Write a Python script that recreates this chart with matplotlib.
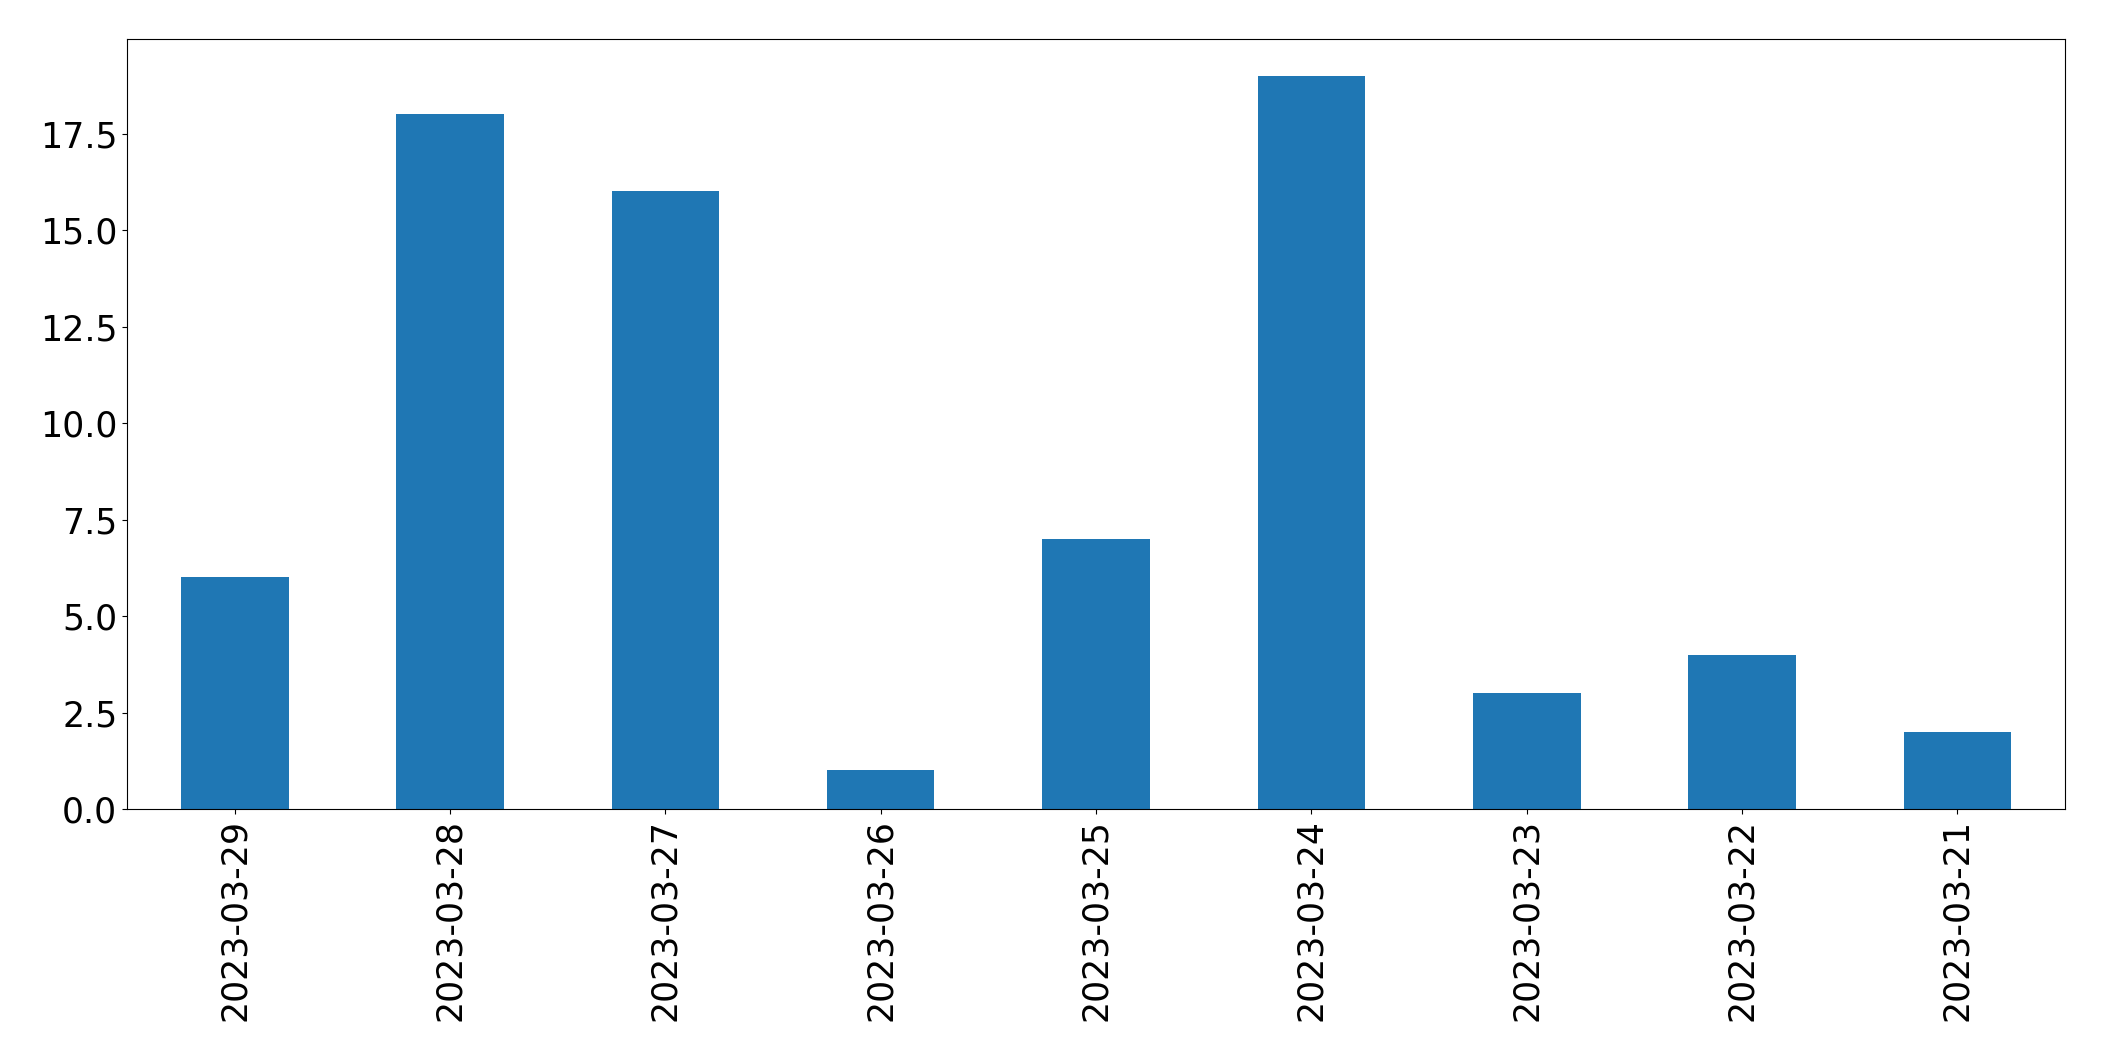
import matplotlib
matplotlib.use("Agg")
import matplotlib.pyplot as plt
import numpy as np

dates = ["2023-03-29", "2023-03-28", "2023-03-27", "2023-03-26", "2023-03-25",
         "2023-03-24", "2023-03-23", "2023-03-22", "2023-03-21"]
counts = [6, 18, 16, 1, 7, 19, 3, 4, 2]

fig = plt.figure(figsize=(21.04, 10.61), dpi=100)
ax = fig.add_axes([127 / 2104, 1 - 809 / 1061, (2065 - 127) / 2104, (809 - 39) / 1061])

x = np.arange(len(dates))
ax.bar(x, counts, width=0.5, color="#1f77b4")
ax.set_xlim(-0.5, len(dates) - 0.5)
ax.set_xticks(x)
ax.set_xticklabels(dates, rotation=90)
ax.tick_params(labelsize=25)

fig.savefig("out.png", dpi=100)
